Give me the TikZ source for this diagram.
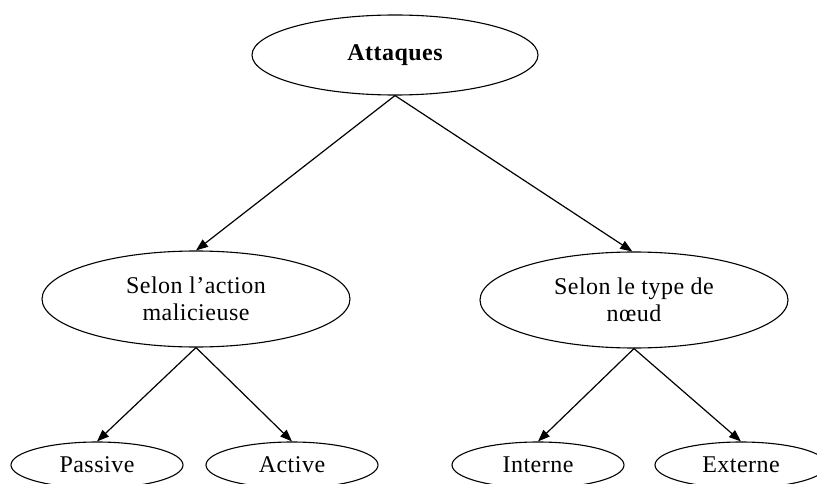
\documentclass[tikz,border=0pt]{standalone}
\usepackage{fontspec}
\setmainfont[LetterSpace=2]{Liberation Serif}
\usetikzlibrary{shapes.geometric,arrows.meta}
\begin{document}
\begin{tikzpicture}[x=1pt,y=-1pt,
  el/.style={draw,ellipse,line width=1.1pt,inner sep=0pt,align=center,font=\fontsize{24}{27}\selectfont},
  big/.style={minimum width=308pt,minimum height=96pt},
  small/.style={minimum width=172pt,minimum height=46pt},
  conn/.style={line width=1.2pt,-{Triangle[length=12pt,width=9pt]}}]
\useasboundingbox (0,0) rectangle (817,484);
\node[el,minimum width=286pt,minimum height=80pt,font=\fontsize{24}{27}\selectfont\bfseries] (root) at (395,55) {Attaques};
\node[el,big] (left) at (196,299) {Selon l’action\\malicieuse};
\node[el,big] (right) at (634,300) {Selon le type de\\nœud};
\node[el,small] (passive) at (97,465) {Passive};
\node[el,small] (active) at (292,465) {Active};
\node[el,small] (interne) at (538,465) {Interne};
\node[el,small] (externe) at (741,465) {Externe};
\draw[conn] (root.south) -- (left.north);
\draw[conn] (root.south) -- (right.92);
\draw[conn] (left.south) -- (passive.north);
\draw[conn] (left.south) -- (active.north);
\draw[conn] (right.south) -- (interne.north);
\draw[conn] (right.south) -- (externe.north);
\end{tikzpicture}
\end{document}
